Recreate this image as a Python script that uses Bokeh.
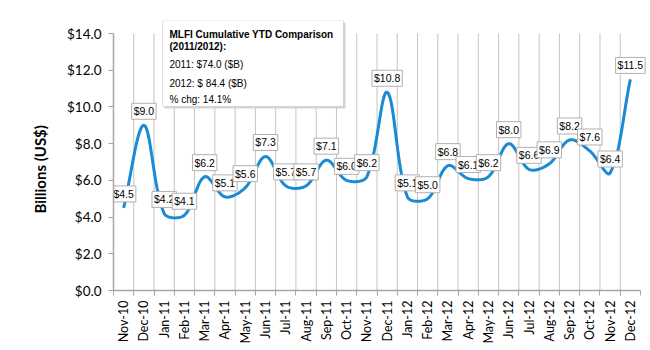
import numpy as np
from math import pi
from bokeh.plotting import figure
from bokeh.models import (ColumnDataSource, FixedTicker, Range1d, Label, Title,
                          BoxAnnotation, PrintfTickFormatter)
from bokeh.core.properties import value
from bokeh.embed import file_html
from bokeh.resources import INLINE

months = ["Nov-10", "Dec-10", "Jan-11", "Feb-11", "Mar-11", "Apr-11", "May-11", "Jun-11",
          "Jul-11", "Aug-11", "Sep-11", "Oct-11", "Nov-11", "Dec-11", "Jan-12", "Feb-12",
          "Mar-12", "Apr-12", "May-12", "Jun-12", "Jul-12", "Aug-12", "Sep-12", "Oct-12",
          "Nov-12", "Dec-12"]
values = [4.5, 9.0, 4.2, 4.1, 6.2, 5.1, 5.6, 7.3, 5.7, 5.7, 7.1, 6.0, 6.2, 10.8, 5.1, 5.0,
          6.8, 6.1, 6.2, 8.0, 6.6, 6.9, 8.2, 7.6, 6.4, 11.5]
y_ticks = [0, 2, 4, 6, 8, 10, 12, 14]
y_title = "Billions (US$)"
note_title = ["MLFI Cumulative YTD Comparison", "(2011/2012):"]
note_lines = ["2011: $74.0 ($B)", "2012: $ 84.4  ($B)", "% chg: 14.1%"]

n = len(months)
xs = np.arange(n, dtype=float)
ys = np.array(values, dtype=float)

FRAME_LEFT = 113
FRAME_BOTTOM = 290
AXIS_TOP = 33        # pixel row of $14.0
CANVAS_TOP = 20      # frame extended up so the note box is not clipped
AXIS_RIGHT = 640
CANVAS_RIGHT = 649
Y_MAX = y_ticks[-1]
Y_END = Y_MAX * (FRAME_BOTTOM - CANVAS_TOP) / (FRAME_BOTTOM - AXIS_TOP)
X_START = -0.5
X_AXIS_END = n - 0.5
X_END = X_START + (X_AXIS_END - X_START) * (CANVAS_RIGHT - FRAME_LEFT) / (AXIS_RIGHT - FRAME_LEFT)


def smooth(xv, yv, kx=20.3, ky=18.36, steps=24):
    P = np.column_stack([xv * kx, yv * ky])
    m = len(P)
    outx, outy = [], []
    t = np.linspace(0, 1, steps)
    for i in range(m - 1):
        p0 = P[i - 1] if i > 0 else P[i]
        p1 = P[i]
        p2 = P[i + 1]
        p3 = P[i + 2] if i + 2 < m else P[i + 1]
        d01 = np.linalg.norm(p1 - p0)
        d12 = np.linalg.norm(p2 - p1)
        d23 = np.linalg.norm(p3 - p2)
        f1 = d12 / (d01 + d12) if d01 + d12 > 0 else 0.5
        f2 = d12 / (d12 + d23) if d12 + d23 > 0 else 0.5
        c1 = p1 + (p2 - p0) * f1 / 3.0
        c2 = p2 - (p3 - p1) * f2 / 3.0
        tt = t[:, None]
        b = ((1 - tt) ** 3) * p1 + 3 * ((1 - tt) ** 2) * tt * c1 + 3 * (1 - tt) * tt ** 2 * c2 + tt ** 3 * p2
        if i > 0:
            b = b[1:]
        outx.extend(b[:, 0] / kx)
        outy.extend(b[:, 1] / ky)
    return outx, outy


cx, cy = smooth(xs, ys)

p = figure(width=650, height=350, output_backend="svg", toolbar_location=None,
           x_range=Range1d(X_START, X_END), y_range=Range1d(0, Y_END),
           min_border_left=FRAME_LEFT, min_border_right=650 - CANVAS_RIGHT,
           min_border_top=CANVAS_TOP, min_border_bottom=350 - FRAME_BOTTOM)
p.outline_line_color = None
p.background_fill_color = "white"
p.border_fill_color = "white"
p.xgrid.grid_line_color = None
p.ygrid.grid_line_color = None

# vertical gridlines between categories, limited to the axis span
bounds_x = list(np.arange(1, n) - 0.5)
p.segment(x0=bounds_x, y0=[0] * len(bounds_x), x1=bounds_x, y1=[Y_MAX] * len(bounds_x),
          line_color="#c4c4c4", line_width=1)

p.line(cx, cy, line_color="#1a8ad4", line_width=3)

src = ColumnDataSource(dict(x=xs, y=ys, lab=["$%.1f" % v for v in values]))
p.text(x="x", y="y", text="lab", source=src, y_offset=-14,
       text_align="center", text_baseline="middle",
       text_font=value("Liberation Sans"), text_font_size="10.5px", text_color="black",
       background_fill_color="white", border_line_color="#b0b0b0",
       border_line_width=1, padding=2)

# axes
p.xaxis.ticker = FixedTicker(ticks=list(xs), minor_ticks=list(np.arange(n + 1) - 0.5))
p.xaxis.bounds = (X_START, X_AXIS_END)
p.xaxis.major_label_overrides = {i: m for i, m in enumerate(months)}
p.xaxis.major_label_orientation = pi / 2
p.xaxis.major_tick_line_color = None
p.xaxis.minor_tick_line_color = "#a6a6a6"
p.xaxis.minor_tick_out = 5
p.xaxis.minor_tick_in = 0
p.xaxis.axis_line_color = "#a6a6a6"
p.xaxis.axis_line_width = 1.5
p.xaxis.major_label_text_font = "Lato"
p.xaxis.major_label_text_font_size = "12.5px"
p.xaxis.major_label_text_color = "black"
p.xaxis.major_label_standoff = 4

p.yaxis.ticker = FixedTicker(ticks=y_ticks)
p.yaxis.bounds = (0, Y_MAX)
p.yaxis.formatter = PrintfTickFormatter(format="$%.1f")
p.yaxis.major_tick_line_color = "#a6a6a6"
p.yaxis.major_tick_out = 5
p.yaxis.major_tick_in = 0
p.yaxis.minor_tick_line_color = None
p.yaxis.axis_line_color = "#a6a6a6"
p.yaxis.axis_line_width = 1.5
p.yaxis.major_label_text_font = "Lato"
p.yaxis.major_label_text_font_size = "13.5px"
p.yaxis.major_label_text_color = "black"
p.yaxis.major_label_standoff = 7

ytitle = Title(text=y_title, align="left", offset=77, standoff=29,
               text_font="Lato", text_font_style="bold", text_font_size="15px",
               text_color="black")
p.add_layout(ytitle, "left")


# note box: screen units are relative to the frame (x from left, y up from bottom)
def fx(px):
    return px - FRAME_LEFT


def fy(py):
    return FRAME_BOTTOM - py


shadow = BoxAnnotation(left=fx(164), right=fx(345), top=fy(22), bottom=fy(108),
                       left_units="screen", right_units="screen", top_units="screen", bottom_units="screen",
                       fill_color="#d4d4d4", fill_alpha=1, line_color=None, level="overlay")
box = BoxAnnotation(left=fx(162), right=fx(343), top=fy(20), bottom=fy(106),
                    left_units="screen", right_units="screen", top_units="screen", bottom_units="screen",
                    fill_color="white", fill_alpha=1, line_color="#a0a0a0", line_width=1, level="overlay")
p.add_layout(shadow)
p.add_layout(box)
bases = [34, 46, 64, 83, 99]
texts = note_title + note_lines
for i, (t, b) in enumerate(zip(texts, bases)):
    p.add_layout(Label(x=fx(169), y=fy(b), x_units="screen", y_units="screen", text=t,
                       text_font="Liberation Sans", text_font_size="10px",
                       text_font_style="bold" if i < 2 else "normal",
                       text_baseline="alphabetic", text_color="black", level="overlay"))

open("out.html", "w").write(file_html(p, INLINE))
